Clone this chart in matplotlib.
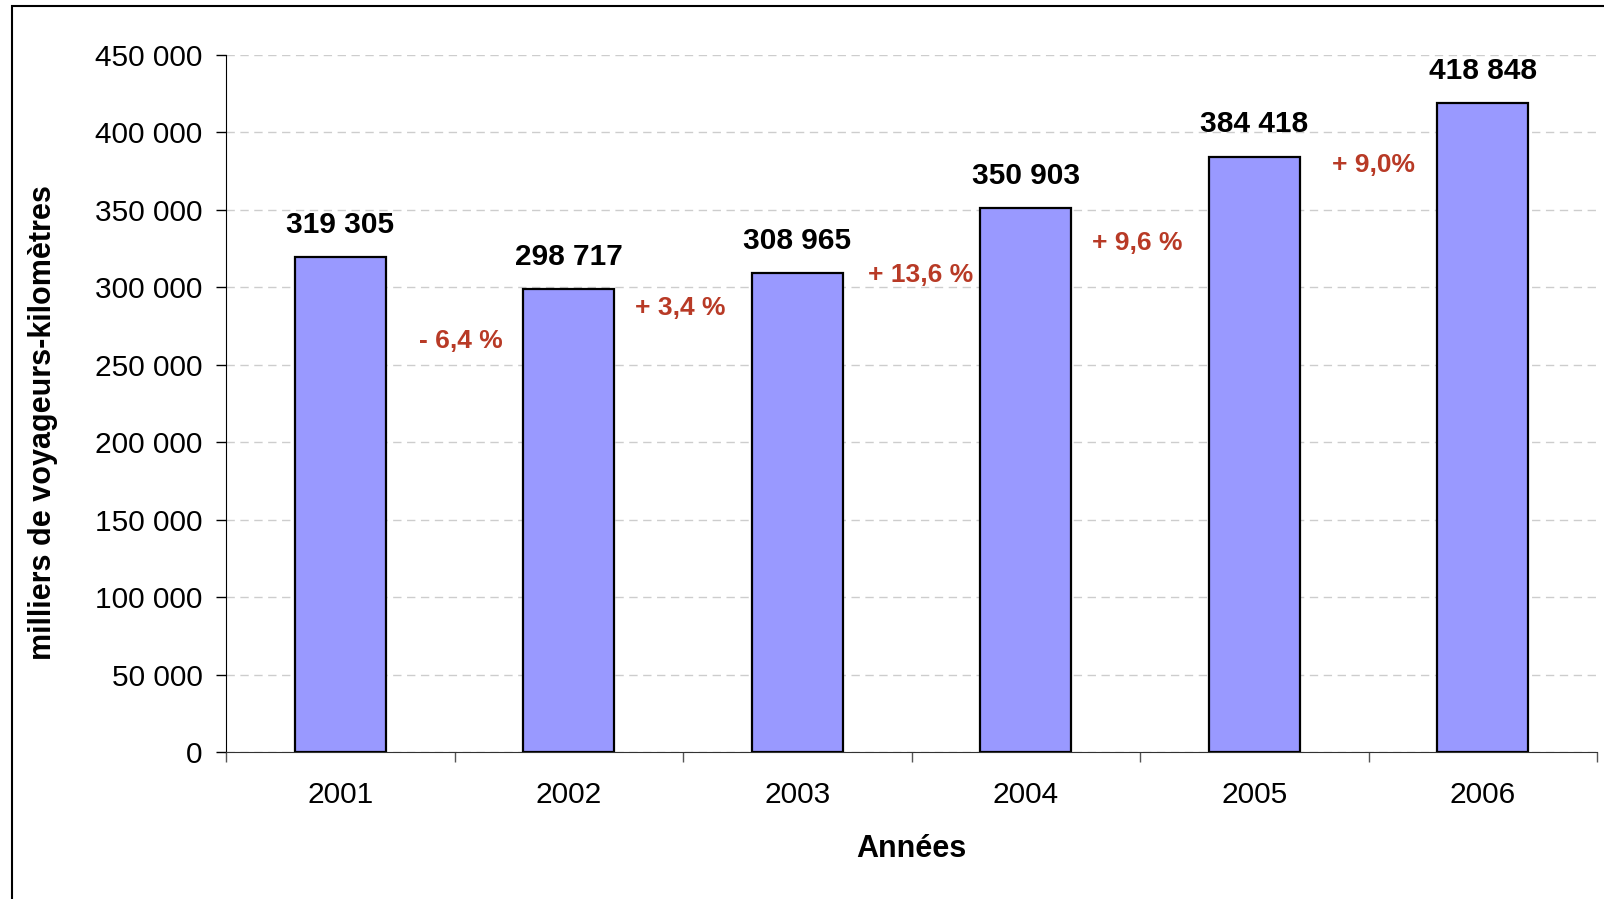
import numpy as np
import matplotlib
matplotlib.use("Agg")
import matplotlib.pyplot as plt
from matplotlib.patches import Rectangle

plt.rcParams["font.family"] = ["Liberation Sans", "DejaVu Sans"]

# --- donnees ---
annees = ["2001", "2002", "2003", "2004", "2005", "2006"]
voyageurs_km = [319305, 298717, 308965, 350903, 384418, 418848]
evolutions = ["- 6,4 %", "+ 3,4 %", "+ 13,6 %", "+ 9,6 %", "+ 9,0%"]
# position des etiquettes d'evolution (entre deux barres)
evol_x = [0.53, 1.49, 2.54, 3.49, 4.52]
evol_y = [265300, 286700, 308000, 328300, 379000]

BAR_COLOR = "#9999FF"
RED = "#B83A26"


def fmt(v):
    return f"{v:,}".replace(",", " ")


fig = plt.figure(figsize=(16.04, 8.99), dpi=100)
ax = fig.add_axes([226 / 1604, 1 - 752 / 899, 1371 / 1604, 697 / 899])

x = np.arange(len(annees))
ax.bar(x, voyageurs_km, width=0.40, color=BAR_COLOR, edgecolor="black",
       linewidth=1.6, zorder=3)

for xi, v in zip(x, voyageurs_km):
    ax.annotate(fmt(v), (xi, v), xytext=(0, 23.5), textcoords="offset points",
                ha="center", va="center", fontsize=21.5, fontweight="bold")

for xe, ye, txt in zip(evol_x, evol_y, evolutions):
    ax.text(xe, ye, txt, ha="center", va="center", fontsize=19,
            fontweight="bold", color=RED)

ax.set_xlim(-0.5, len(annees) - 0.5)
ax.set_ylim(0, 450000)
ax.set_yticks(np.arange(0, 450001, 50000))
ax.set_yticklabels([fmt(v) for v in np.arange(0, 450001, 50000)])
ax.tick_params(axis="y", length=7, width=1, pad=10, labelsize=21.5)

# ticks de separation entre categories, labels au centre
ax.set_xticks(np.arange(-0.5, len(annees)), labels=[""] * (len(annees) + 1))
ax.set_xticks(x, labels=annees, minor=True)
ax.tick_params(axis="x", which="major", length=7, width=1, color="#555555")
ax.tick_params(axis="x", which="minor", length=0, pad=21, labelsize=21.5)

ax.grid(axis="y", ls=(0, (6, 4)), color="#CDCDCD", lw=1, zorder=0)
ax.spines["top"].set_visible(False)
ax.spines["right"].set_visible(False)
ax.spines["bottom"].set_color("#333333")

ax.set_xlabel("Années", fontsize=22, fontweight="bold", va="center")
ax.xaxis.set_label_coords(0.5, -0.139)
ax.set_ylabel("milliers de voyageurs-kilomètres", fontsize=22,
              fontweight="bold", va="center")
ax.yaxis.set_label_coords(-0.1335, 0.473)

# cadre exterieur (coupe a droite et en bas)
fig.patches.append(Rectangle((12 / 1604, -0.05), 1.1, 1 - 6 / 899 + 0.05,
                             transform=fig.transFigure, fill=False,
                             edgecolor="black", lw=1.5))

fig.savefig("out.png", dpi=100)
